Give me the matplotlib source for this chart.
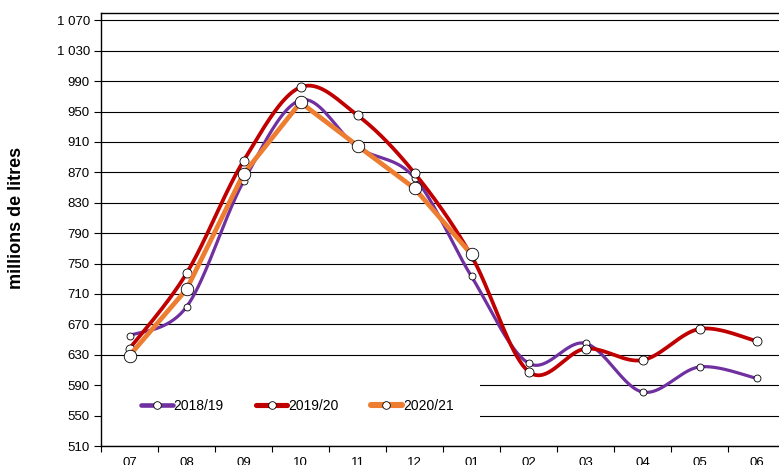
import numpy as np
import matplotlib
matplotlib.use("Agg")
import matplotlib.pyplot as plt
from matplotlib.patches import Rectangle

plt.rcParams["font.family"] = ["Liberation Sans", "DejaVu Sans"]

months = ["07", "08", "09", "10", "11", "12", "01", "02", "03", "04", "05", "06"]
s2018 = [655, 693, 858, 965, 903, 863, 733, 619, 645, 581, 614, 599]
s2019 = [638, 737, 885, 982, 945, 869, 760, 608, 638, 623, 664, 648]
s2020 = [629, 716, 868, 962, 905, 849, 762]

y_ticks = list(range(510, 1071, 40))


def smooth(xs, ys, n=40):
    # Excel-style smoothed line (cubic Bezier through the points)
    p = np.column_stack([xs, ys]).astype(float)
    ext = np.vstack([p[0], p, p[-1]])
    out = [p[:1]]
    t = np.linspace(0, 1, n)[1:, None]
    for i in range(len(p) - 1):
        p0, p1, p2, p3 = ext[i], ext[i + 1], ext[i + 2], ext[i + 3]
        c1 = p1 + (p2 - p0) / 6
        c2 = p2 - (p3 - p1) / 6
        seg = ((1 - t) ** 3 * p1 + 3 * (1 - t) ** 2 * t * c1
               + 3 * (1 - t) * t ** 2 * c2 + t ** 3 * p2)
        out.append(seg)
    out = np.vstack(out)
    return out[:, 0], out[:, 1]


fig = plt.figure(figsize=(7.79, 4.65), dpi=100)
ax = fig.add_axes([101 / 779, 19 / 465, 684 / 779, 433.3 / 465])

series = [
    ("2018/19", s2018, "#7030A0", 2.3, 5.0, True),
    ("2019/20", s2019, "#C00000", 2.7, 6.5, True),
    ("2020/21", s2020, "#ED7D31", 3.4, 9.0, False),
]

handles = []
for k, (name, vals, col, lw, ms, smoothed) in enumerate(series):
    x = np.arange(len(vals))
    if smoothed:
        sx, sy = smooth(x, vals)
    else:
        sx, sy = x, np.array(vals)
    z = 3 + k
    ax.plot(sx, sy, color=col, lw=lw, solid_capstyle="round",
            solid_joinstyle="round", zorder=z)
    ax.plot(x, vals, ls="none", marker="o", ms=ms, mfc="white",
            mec="black", mew=0.6, zorder=z + 0.5)
    h, = ax.plot([], [], color=col, lw=lw + 1, marker="o", ms=5.5,
                 mfc="white", mec="black", mew=0.6, solid_capstyle="round")
    handles.append(h)

ax.set_xlim(-0.5, 11.5)
ax.set_ylim(510, 1080)
ax.set_yticks(y_ticks)
ax.set_yticklabels([f"{v:,}".replace(",", " ") for v in y_ticks])
ax.set_xticks(range(len(months)))
ax.set_xticklabels(months)
ax.set_xticks(np.arange(-0.5, 12, 1), minor=True)
ax.tick_params(axis="x", which="major", length=0, pad=8, labelsize=9.5)
ax.tick_params(axis="x", which="minor", length=4, width=0.8, direction="out")
ax.tick_params(axis="y", length=5, width=0.8, pad=3, labelsize=9.5)

ax.set_axisbelow(True)
ax.yaxis.grid(True, color="black", lw=0.8)
for sp in ax.spines.values():
    sp.set_color("black")
    sp.set_linewidth(1.0)

# white area behind the legend
ax.add_patch(Rectangle((0.002, 0.025), 0.552, 0.162, transform=ax.transAxes,
                       facecolor="white", edgecolor="none", zorder=1))

ax.legend(handles, [s[0] for s in series], loc="center",
          bbox_to_anchor=(0.287, 0.093), ncol=3, frameon=False,
          fontsize=10, handlelength=2.3, handletextpad=0.05,
          columnspacing=2.3, numpoints=1)

fig.text(17 / 779, (465 - 218) / 465, "millions de litres", rotation=90,
         ha="center", va="center", fontsize=13, fontweight="bold")

fig.savefig("out.png", dpi=100)
